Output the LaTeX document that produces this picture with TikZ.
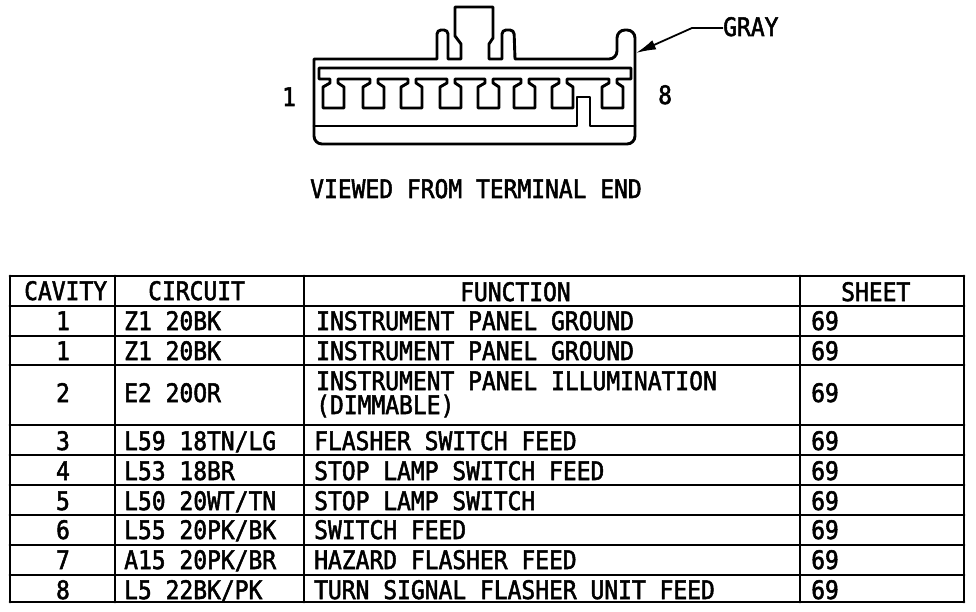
\documentclass[tikz,border=0pt]{standalone}
\usepackage{fontspec}
\usepackage{tikz}
\setmainfont[FakeStretch=0.9,FakeBold=2]{DejaVu Sans Mono}
\usetikzlibrary{arrows, arrows.meta}
\usetikzlibrary{calc}

\tikzset{
  ink/.style={line width=2.9pt, line join=round, line cap=round},
  txt/.style={font=\fontsize{25.5pt}{22pt}\selectfont, inner sep=0pt, anchor=base west},
  mid/.style={font=\fontsize{25.5pt}{22pt}\selectfont, inner sep=0pt, anchor=base},
}

\begin{document}
\begin{tikzpicture}[x=1pt, y=-1pt]
      \useasboundingbox (0, 0) rectangle (976, 612);

      % connector body
      \draw[ink] (314, 59) -- (437, 59) [rounded corners=4pt] -- (437, 30) -- (448, 30) [sharp corners]
        -- (448, 59) -- (461, 59) -- (461, 44) -- (455, 36) -- (455, 7)
        -- (493, 7) -- (493, 38) -- (489, 44) -- (489, 59) -- (502, 59) [rounded corners=4pt]
        -- (502, 30) -- (514, 30) [sharp corners] -- (515, 59) [rounded corners=8pt] -- (617, 59)
        -- (617, 30) -- (635, 30) -- (635, 144) -- (314, 144) [sharp corners] -- cycle;

      % bottom ledge with key
      \draw[ink] (314, 126) -- (577, 126) -- (577, 97) -- (590, 97) -- (590, 126) -- (635, 126);

      % comb with eight cavities
      \draw[ink] (319, 68) -- (319, 79) \foreach \cav in {323, 363, 401, 440, 478, 514, 552, 602} {
          -- (\cav+7, 79) -- (\cav+7, 83) -- (\cav, 87) -- (\cav, 108) -- (\cav+21, 108)
          -- (\cav+21, 87) -- (\cav+15, 83) -- (\cav+15, 79)
        } -- (631, 79) -- (631, 68) -- cycle;

      % labels round the connector
      \node[txt] (one) at (282, 106) {1};
      \node[txt] (eight) at (658, 104) {8};
      \node[txt] (gray) at (723, 36) {GRAY};
      \node[txt] (viewed) at (310, 198) {VIEWED FROM TERMINAL END};

      \coordinate (graybend) at (692, 28);
      \coordinate (graytip) at (636, 53);
      \draw[line width=1.8pt, -{Latex[length=20pt, width=10pt]}] (gray.west |- graybend) -- (graybend) -- (graytip);

      % table rules
      \foreach \row in {276, 306, 336, 365, 425, 455, 485, 515, 545, 575, 602} {
        \draw[ink] (10, \row) -- (964, \row);
      }
      \foreach \col in {10, 115, 304, 800, 964} {
        \draw[ink] (\col, 276) -- (\col, 602);
      }

      % header
      \node[txt] (cavity) at (24, 300) {CAVITY};
      \node[txt] (circuit) at (148, 300) {CIRCUIT};
      \node[txt] (function) at (460, 301) {FUNCTION};
      \node[txt] (sheet) at (841, 301) {SHEET};

      % cavity column
      \node[mid] (c1) at (63, 330) {1};
      \node[mid] (c2) at (63, 360) {1};
      \node[mid] (c3) at (63, 402) {2};
      \node[mid] (c4) at (63, 450) {3};
      \node[mid] (c5) at (63, 480) {4};
      \node[mid] (c6) at (63, 510) {5};
      \node[mid] (c7) at (63, 539) {6};
      \node[mid] (c8) at (63, 569) {7};
      \node[mid] (c9) at (63, 599) {8};

      % circuit column
      \node[txt] (z1) at (124, 330) {Z1 20BK};
      \node[txt] (z2) at (124, 360) {Z1 20BK};
      \node[txt] (e2) at (124, 402) {E2 20OR};
      \node[txt] (l59) at (124, 450) {L59 18TN/LG};
      \node[txt] (l53) at (124, 480) {L53 18BR};
      \node[txt] (l50) at (124, 510) {L50 20WT/TN};
      \node[txt] (l55) at (124, 539) {L55 20PK/BK};
      \node[txt] (a15) at (124, 569) {A15 20PK/BR};
      \node[txt] (l5) at (124, 599) {L5 22BK/PK};

      % function column
      \node[txt] (f1) at (316, 330) {INSTRUMENT PANEL GROUND};
      \node[txt] (f2) at (316, 360) {INSTRUMENT PANEL GROUND};
      \node[txt] (f3) at (316, 390) {INSTRUMENT PANEL ILLUMINATION};
      \node[txt] (f3b) at (316, 414) {(DIMMABLE)};
      \node[txt] (f4) at (314, 450) {FLASHER SWITCH FEED};
      \node[txt] (f5) at (314, 480) {STOP LAMP SWITCH FEED};
      \node[txt] (f6) at (314, 510) {STOP LAMP SWITCH};
      \node[txt] (f7) at (314, 539) {SWITCH FEED};
      \node[txt] (f8) at (314, 569) {HAZARD FLASHER FEED};
      \node[txt] (f9) at (314, 599) {TURN SIGNAL FLASHER UNIT FEED};

      % sheet column
      \node[txt] (s1) at (811, 330) {69};
      \node[txt] (s2) at (811, 360) {69};
      \node[txt] (s3) at (811, 402) {69};
      \node[txt] (s4) at (811, 450) {69};
      \node[txt] (s5) at (811, 480) {69};
      \node[txt] (s6) at (811, 510) {69};
      \node[txt] (s7) at (811, 539) {69};
      \node[txt] (s8) at (811, 569) {69};
      \node[txt] (s9) at (811, 599) {69};
    \end{tikzpicture}
\end{document}
